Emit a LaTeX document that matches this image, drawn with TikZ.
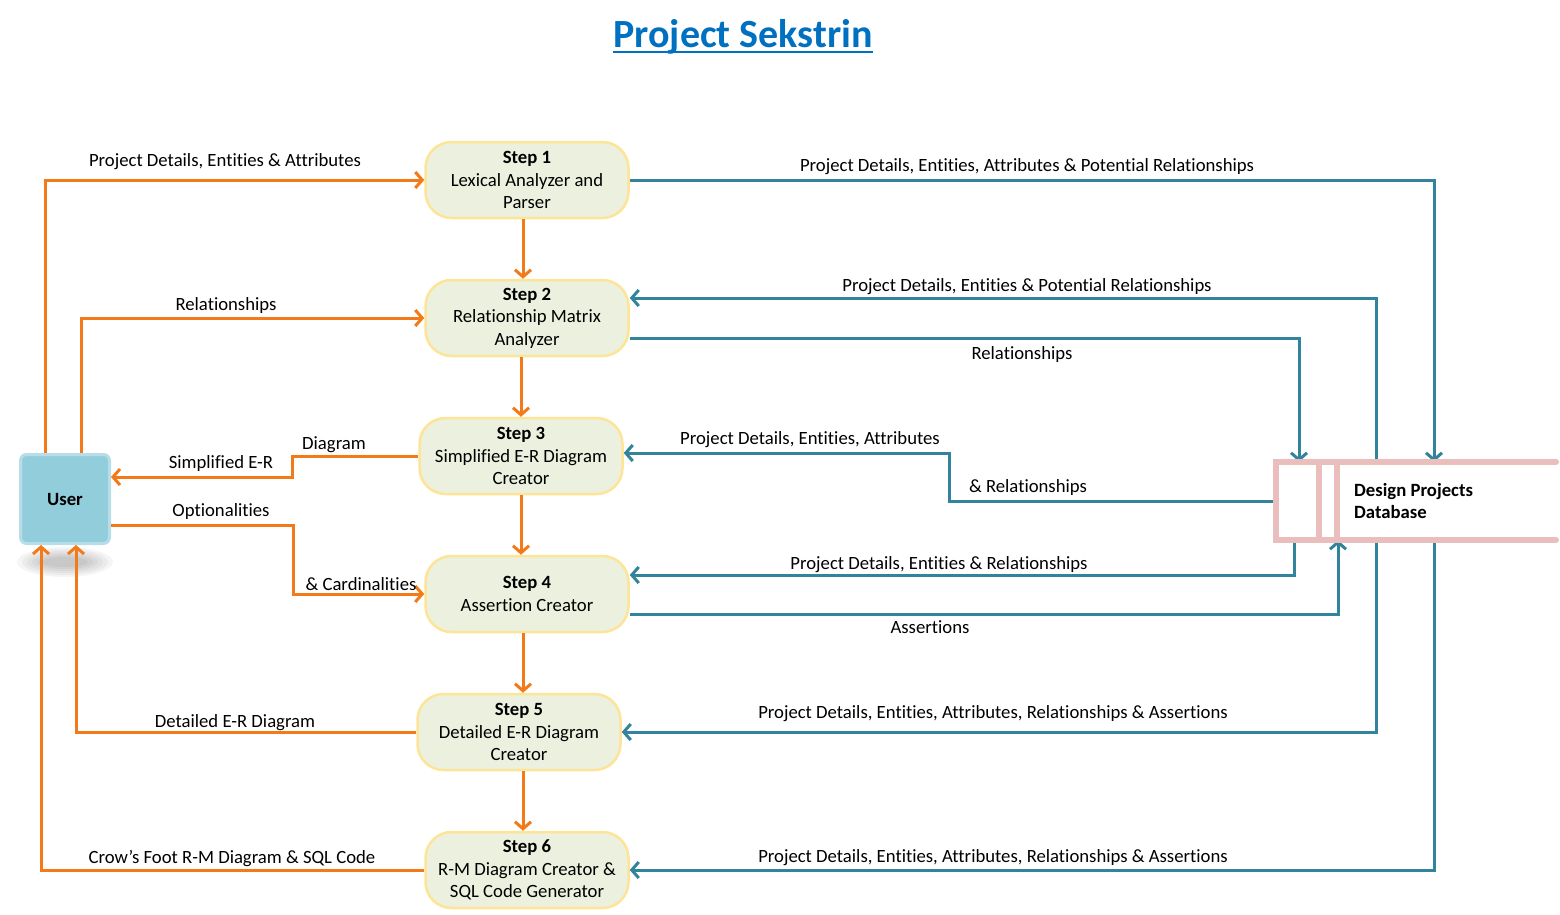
\documentclass[tikz,border=0pt]{standalone}
\usepackage{fontspec}
\setmainfont{Carlito}[Ligatures=CommonOff]
\usetikzlibrary{arrows.meta}
\usetikzlibrary{positioning}

\definecolor{flow}{RGB}{242,122,24}
\definecolor{store}{RGB}{49,132,155}
\definecolor{stepfill}{RGB}{235,241,222}
\definecolor{stepline}{RGB}{253,228,150}
\definecolor{userfill}{RGB}{146,205,220}
\definecolor{userline}{RGB}{183,222,232}
\definecolor{dbline}{RGB}{234,190,189}
\definecolor{titleblue}{RGB}{0,112,192}

\begin{document}
\begin{tikzpicture}[x=1pt, y=-1pt, >={Straight Barb[length=7pt, width=16pt]},
        stepbox/.style={draw=stepline, fill=stepfill, line width=2.5pt, rounded corners=26pt,
            minimum width=203pt, minimum height=76pt, align=center, inner sep=0pt,
            font=\fontsize{18.7}{22.5}\selectfont},
        userbox/.style={draw=userline, fill=userfill, line width=3pt, rounded corners=6pt,
            minimum width=89pt, minimum height=89pt, font=\fontsize{18.7}{22}\selectfont\bfseries},
        lbl/.style={inner sep=0pt, font=\fontsize{18.7}{22}\selectfont},
        flowline/.style={flow, line width=3pt},
        storeline/.style={store, line width=3pt},
        dbwall/.style={dbline, line width=5.5pt, line cap=round}]
        \useasboundingbox (0,0) rectangle (1560,914);

        % Title
        \node[anchor=base, inner sep=0pt, text=titleblue, font=\fontsize{40}{46}\selectfont\bfseries] (title) at (743,47) {Project Sekstrin};
        \draw[titleblue, line width=2.5pt] ([yshift=-5pt]title.base west) -- ([yshift=-5pt]title.base east);

        % User with its shadow
        \foreach \r in {1,...,6} {
            \fill[black, opacity=0.04] (65,562) ellipse ({18+5*\r} and {3+2*\r});
        }
        \node[userbox] (user) at (65,499) {User};

        % Steps
        \node[stepbox] (s1) at (527,180) {\textbf{Step 1}\\Lexical Analyzer and\\Parser};
        \node[stepbox] (s2) at (527,318) {\textbf{Step 2}\\Relationship Matrix\\Analyzer};
        \node[stepbox] (s3) at (521,456) {\textbf{Step 3}\\Simplified E-R Diagram\\Creator};
        \node[stepbox] (s4) at (527,594) {\textbf{Step 4}\\Assertion Creator};
        \node[stepbox] (s5) at (519,732) {\textbf{Step 5}\\Detailed E-R Diagram\\Creator};
        \node[stepbox] (s6) at (527,870) {\textbf{Step 6}\\R-M Diagram Creator \&\\SQL Code Generator};

        % Database (drawn after the lines below)
        \node[inner sep=0pt, minimum width=280pt, minimum height=78pt] (db) at (1416,501) {};

        % Step to step
        \foreach \a/\b/\x in {s1/s2/523, s2/s3/521, s3/s4/521, s4/s5/523, s5/s6/523} {
            \draw[flowline, ->] (\a.south -| \x,0) -- (\b.north -| \x,0);
        }

        % User flows
        \draw[flowline, ->] ([xshift=-20pt]user.north) |- (s1.west);
        \draw[flowline, ->] ([xshift=16pt]user.north) |- (s2.west);
        \draw[flowline, ->] (s3.west) -- (292,456) |- ([yshift=22pt]user.east);
        \draw[flowline, ->] ([yshift=-26pt]user.east) -| (293,560) |- (s4.west);
        \draw[flowline, ->] (s5.west) -| ([xshift=11pt]user.south);
        \draw[flowline, ->] (s6.west) -| ([xshift=-24pt]user.south);

        % Database flows
        \draw[storeline, ->] (s1.east) -| ([xshift=18pt]db.north);
        \draw[storeline, ->] ([xshift=-40pt]db.north) |- ([yshift=20pt]s2.east);
        \draw[storeline, ->] ([yshift=-20pt]s2.east) -| ([xshift=-117pt]db.north);
        \draw[storeline, ->] (db.west) -| (949,476) |- ([yshift=3pt]s3.east);
        \draw[storeline, ->] ([xshift=-122pt]db.south) |- ([yshift=19pt]s4.east);
        \draw[storeline, ->] ([yshift=-20pt]s4.east) -| ([xshift=-78pt]db.south);
        \draw[storeline, ->] ([xshift=-40pt]db.south) |- (s5.east);
        \draw[storeline, ->] ([xshift=18pt]db.south) |- (s6.east);

        % Database store
        \draw[dbwall] (db.north east) -- (db.north west) -- (db.south west) -- (db.south east);
        \draw[dbwall] ([xshift=43pt]db.north west) -- ([xshift=43pt]db.south west);
        \draw[dbwall] ([xshift=61pt]db.north west) -- ([xshift=61pt]db.south west);
        \node[anchor=west, align=left, inner sep=0pt, font=\fontsize{18.7}{22}\selectfont\bfseries] (dbname) at (1354,501) {Design Projects\\Database};

        % Labels
        \node[lbl] (l1) at (225,162) {Project Details, Entities \& Attributes};
        \node[lbl] (l2) at (226,306) {Relationships};
        \node[lbl] (l3) at (334,445) {Diagram};
        \node[lbl] (l4) at (221,464) {Simplified E-R};
        \node[lbl] (l5) at (221,512) {Optionalities};
        \node[lbl] (l6) at (361,584) {\& Cardinalities};
        \node[lbl] (l7) at (235,723) {Detailed E-R Diagram};
        \node[lbl] (l8) at (232,858) {Crow’s Foot R-M Diagram \& SQL Code};
        \node[lbl] (r1) at (1027,167) {Project Details, Entities, Attributes \& Potential Relationships};
        \node[lbl] (r2) at (1027,287) {Project Details, Entities \& Potential Relationships};
        \node[lbl] (r3) at (1022,355) {Relationships};
        \node[lbl] (r4) at (810,440) {Project Details, Entities, Attributes};
        \node[lbl] (r5) at (1028,488) {\& Relationships};
        \node[lbl] (r6) at (939,565) {Project Details, Entities \& Relationships};
        \node[lbl] (r7) at (930,627) {Assertions};
        \node[lbl] (r8) at (993,714) {Project Details, Entities, Attributes, Relationships \& Assertions};
        \node[lbl] (r9) at (993,858) {Project Details, Entities, Attributes, Relationships \& Assertions};
\end{tikzpicture}
\end{document}
